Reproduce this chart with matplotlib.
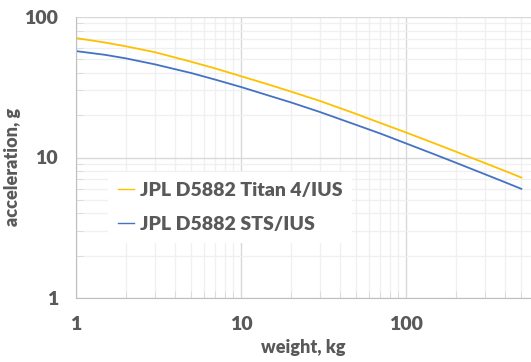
import matplotlib
matplotlib.use("Agg")
import matplotlib.pyplot as plt
from matplotlib.ticker import LogLocator, NullFormatter, FixedLocator, FixedFormatter

# weight (kg) and acceleration (g)
weight = [1, 1.5, 2, 3, 5, 7, 10, 15, 20, 30, 50, 70, 100, 150, 200, 300, 400, 500]
titan_ius = [70.8, 65.8, 61.9, 56.2, 48.0, 43.0, 37.9, 32.8, 29.5, 25.3, 20.4, 17.6,
             15.07, 12.56, 11.02, 9.14, 8.0, 7.2]
sts_ius = [57.2, 53.8, 50.8, 46.05, 39.9, 35.8, 31.75, 27.4, 24.7, 21.1, 17.05, 14.8,
           12.6, 10.49, 9.19, 7.61, 6.65, 5.98]

TEXT = "#595959"
plt.rcParams["font.family"] = ["Lato", "DejaVu Sans"]
plt.rcParams["font.weight"] = "heavy"
plt.rcParams["axes.labelweight"] = "heavy"

fig = plt.figure(figsize=(5.31, 3.62), dpi=100)
ax = fig.add_axes([76 / 531, 1 - 298 / 362, 1 - 76 / 531, 281 / 362])

ax.plot(weight, titan_ius, color="#FFC000", lw=1.3, label="JPL D5882 Titan 4/IUS")
ax.plot(weight, sts_ius, color="#4472C4", lw=1.3, label="JPL D5882 STS/IUS")

ax.set_xscale("log"); ax.set_yscale("log")
ax.set_xlim(1, 572); ax.set_ylim(1, 100)

ax.xaxis.set_major_locator(FixedLocator([1, 10, 100]))
ax.xaxis.set_major_formatter(FixedFormatter(["1", "10", "100"]))
ax.yaxis.set_major_locator(FixedLocator([1, 10, 100]))
ax.yaxis.set_major_formatter(FixedFormatter(["1", "10", "100"]))
for axis in (ax.xaxis, ax.yaxis):
    axis.set_minor_locator(LogLocator(base=10, subs=range(2, 10)))
    axis.set_minor_formatter(NullFormatter())

ax.grid(True, which="major", color="#D9D9D9", lw=1.0)
ax.grid(True, which="minor", color="#F0F0F0", lw=1.0)
ax.set_axisbelow(True)

ax.tick_params(which="major", length=0, pad=13, labelsize=14, labelcolor=TEXT)
ax.tick_params(which="minor", direction="in", length=5, color="#D9D9D9")
for s in ("top", "right"):
    ax.spines[s].set_visible(False)
for s in ("left", "bottom"):
    ax.spines[s].set_color("#BFBFBF")

ax.set_xlabel("weight, kg", fontsize=13, color=TEXT, labelpad=4)
ax.set_ylabel("acceleration, g", fontsize=13, color=TEXT)
ax.yaxis.set_label_coords(-0.12, 0.465)

leg = ax.legend(loc="upper left", bbox_to_anchor=(32 / 455, 1 - 155 / 281), frameon=True,
                fancybox=False, edgecolor="white", framealpha=1,
                prop={"size": 14, "weight": "heavy"},
                labelcolor=TEXT, handlelength=0.85, handletextpad=0.3, labelspacing=0.9,
                borderaxespad=0, borderpad=0.5)
leg.get_frame().set_linewidth(0)
for line in leg.get_lines():
    line.set_linewidth(1.0)

fig.savefig("out.png", dpi=100)
